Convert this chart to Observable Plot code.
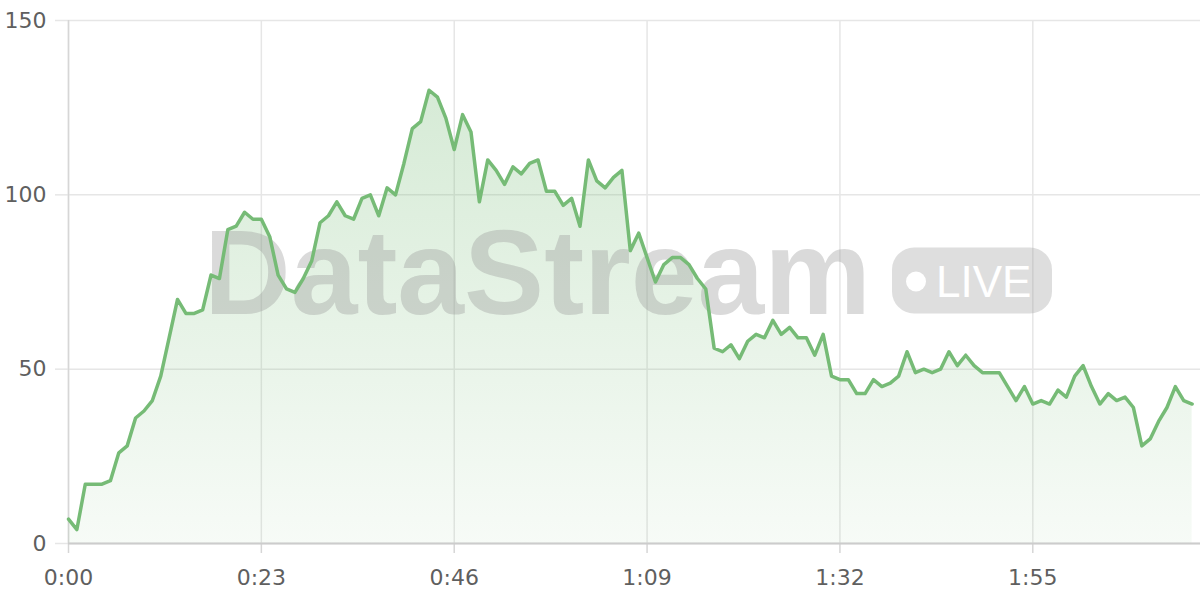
<!DOCTYPE html>
<html>
<head>
<meta charset="utf-8">
<script src="https://cdn.jsdelivr.net/npm/d3@7"></script>
<script src="https://cdn.jsdelivr.net/npm/@observablehq/plot@0.6"></script>
<style>
  html, body { margin: 0; padding: 0; background: #fff; }
  #chart { width: 1200px; height: 600px; }
</style>
</head>
<body>
<div id="chart"></div>
<script>
// Value sampled every second (t = 0 .. 134 s)
const values = [
  7, 4, 17, 17, 17, 18, 26, 28, 36, 38,
  41, 48, 59, 70, 66, 66, 67, 77, 76, 90,
  91, 95, 93, 93, 88, 77, 73, 72, 76, 81,
  92, 94, 98, 94, 93, 99, 100, 94, 102, 100,
  109, 119, 121, 130, 128, 122, 113, 123, 118, 98,
  110, 107, 103, 108, 106, 109, 110, 101, 101, 97,
  99, 91, 110, 104, 102, 105, 107, 84, 89, 82,
  75, 80, 82, 82, 80, 76, 73, 56, 55, 57,
  53, 58, 60, 59, 64, 60, 62, 59, 59, 54,
  60, 48, 47, 47, 43, 43, 47, 45, 46, 48,
  55, 49, 50, 49, 50, 55, 51, 54, 51, 49,
  49, 49, 45, 41, 45, 40, 41, 40, 44, 42,
  48, 51, 45, 40, 43, 41, 42, 39, 28, 30,
  35, 39, 45, 41, 40
];
const xTicks = [0, 23, 46, 69, 92, 115];
const yTicks = [0, 50, 100, 150];
const watermarkTitle = "DataStream";
const badgeLabel = "LIVE";

const data = values.map((v, i) => ({t: i, v}));
const fmt = (s) => `${Math.floor(s / 60)}:${String(s % 60).padStart(2, "0")}`;

function gradientDefs() {
  const defs = d3.create("svg:defs");
  const g = defs.append("linearGradient")
    .attr("id", "areaGrad").attr("x1", 0).attr("y1", 0).attr("x2", 0).attr("y2", 1);
  g.append("stop").attr("offset", "0%").attr("stop-color", "#76bb76").attr("stop-opacity", 0.30);
  g.append("stop").attr("offset", "100%").attr("stop-color", "#76bb76").attr("stop-opacity", 0.06);
  return defs.node();
}

function watermark(index, scales, vals, dims) {
  const cx = (dims.marginLeft + dims.width - dims.marginRight) / 2;
  const cy = (dims.marginTop + dims.height - dims.marginBottom) / 2;
  const g = d3.create("svg:g").attr("transform", `translate(${cx},${cy})`).attr("text-anchor", "start");
  g.append("text")
    .attr("x", -430).attr("y", 32)
    .attr("font-family", "'Liberation Sans', Arial, sans-serif")
    .attr("font-weight", "bold").attr("font-size", 120)
    .attr("fill", "#999").attr("fill-opacity", 0.36)
    .text(watermarkTitle);
  g.append("rect")
    .attr("x", 258).attr("y", -34).attr("width", 160).attr("height", 66).attr("rx", 22)
    .attr("fill", "#9a9a9a").attr("fill-opacity", 0.33);
  g.append("circle").attr("cx", 282).attr("cy", 0).attr("r", 10).attr("fill", "#fff");
  g.append("text")
    .attr("x", 302).attr("y", 15)
    .attr("font-family", "'Liberation Sans', Arial, sans-serif")
    .attr("font-size", 44).attr("fill", "#fff")
    .text(badgeLabel);
  return g.node();
}

const chart = Plot.plot({
  width: 1200,
  height: 600,
  marginLeft: 68,
  marginRight: 0,
  marginTop: 20,
  marginBottom: 57,
  style: {fontFamily: "'DejaVu Sans', sans-serif", fontSize: "22px", color: "#666", background: "#fff"},
  x: {domain: [0, 135]},
  y: {domain: [0, 150]},
  marks: [
    gradientDefs,
    Plot.gridY(yTicks, {stroke: "#e6e6e6", strokeOpacity: 1, strokeWidth: 1.5}),
    Plot.gridX(xTicks, {stroke: "#e6e6e6", strokeOpacity: 1, strokeWidth: 1.5}),
    Plot.axisY(yTicks, {tickSize: 13, tickPadding: 9, stroke: "#e6e6e6", strokeWidth: 1.5, tickFormat: d => d, fill: "#5f5f5f", label: null}),
    Plot.axisX(xTicks, {tickSize: 10, tickPadding: 16, stroke: "#d6d6d6", strokeWidth: 1.5, tickFormat: fmt, fill: "#5f5f5f", label: null}),
    Plot.ruleX([0], {stroke: "#d6d6d6", strokeWidth: 1.5}),
    Plot.areaY(data, {x: "t", y: "v", fill: "url(#areaGrad)"}),
    watermark,
    Plot.ruleY([0], {stroke: "#cccccc", strokeWidth: 2}),
    Plot.lineY(data, {x: "t", y: "v", stroke: "#76bb76", strokeWidth: 3.5, strokeLinejoin: "round"})
  ]
});
document.getElementById("chart").appendChild(chart);
</script>
</body>
</html>
